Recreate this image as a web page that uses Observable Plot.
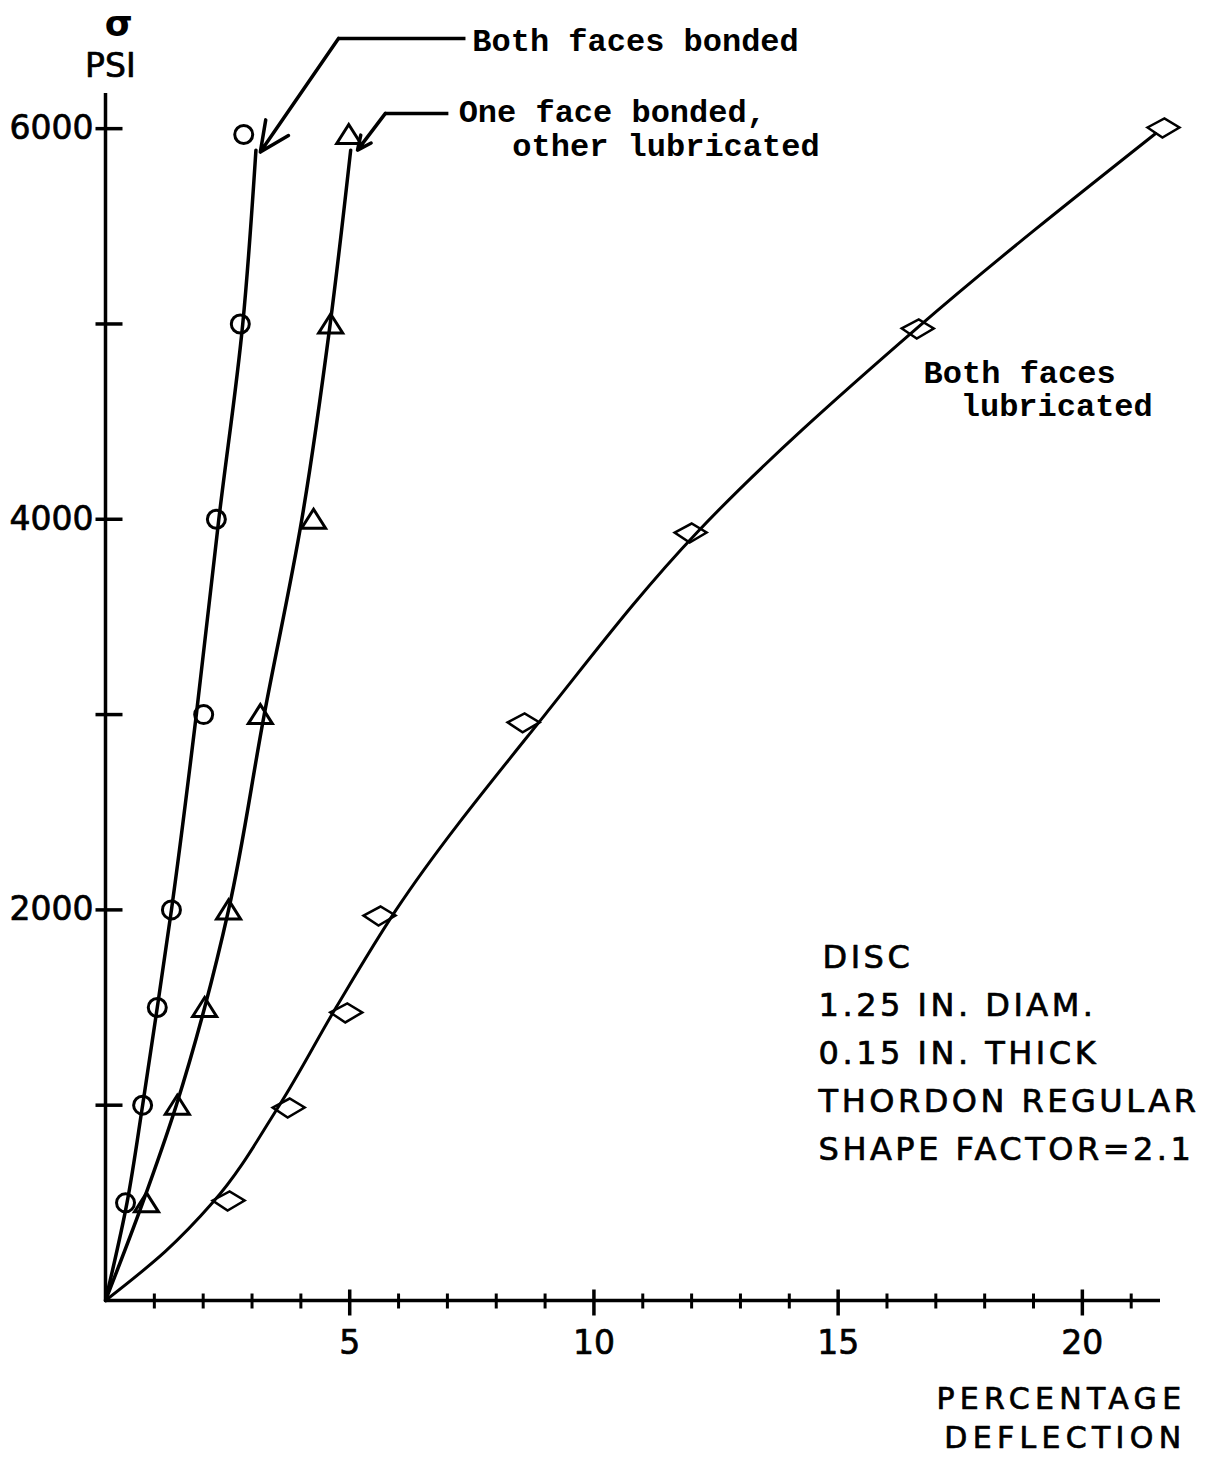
<!DOCTYPE html>
<html><head><meta charset="utf-8">
<script src="https://cdn.jsdelivr.net/npm/d3@7"></script>
<script src="https://cdn.jsdelivr.net/npm/@observablehq/plot@0.6"></script>
<style>
body{margin:0;background:#fff;}
</style></head><body><div id="chart"></div>
<script>
// ---- data ----
// Both faces bonded (circles)
const bondedDefl   = [0.41, 0.76, 1.06, 1.35, 2.01, 2.27, 2.76, 2.83];
const bondedStress = [500, 1000, 1500, 2000, 3000, 4000, 5000, 5970];
const bondedCurveDefl   = [0, 0.44, 0.76, 1.06, 1.35, 1.86, 2.32, 2.81, 3.08];
const bondedCurveStress = [0, 500, 1000, 1500, 2000, 3000, 4000, 5000, 5890];
// One face bonded, other lubricated (triangles)
const oneDefl   = [0.84, 1.47, 2.03, 2.52, 3.17, 4.26, 4.61, 4.98];
const oneStress = [500, 1000, 1500, 2000, 3000, 4000, 5000, 5970];
const oneCurveDefl   = [0, 0.76, 1.45, 2.03, 2.52, 3.25, 4.02, 4.60, 5.02];
const oneCurveStress = [0, 500, 1000, 1500, 2000, 3000, 4000, 5000, 5890];
// Both faces lubricated (diamonds)
const lubDefl   = [2.52, 3.75, 4.93, 5.61, 8.56, 11.98, 16.63, 21.66];
const lubStress = [512, 988, 1475, 1971, 2960, 3932, 4977, 6006];
const lubCurveDefl   = [0, 1.22, 2.19, 3.56, 4.72, 5.95, 9.0, 12.12, 16.62, 21.5];
const lubCurveStress = [0, 250, 500, 1000, 1500, 2000, 3000, 3935, 4980, 5975];

// axes
const xTicks = [1,2,3,4,5,6,7,8,9,10,11,12,13,14,15,16,17,18,19,20,21];
const xMajor = [5,10,15,20];
const xLabels = ["5","10","15","20"];
const yTicks = [1000,2000,3000,4000,5000,6000];
const yLabelVals = [2000,4000,6000];
const yLabels = ["2000","4000","6000"];

// annotations (data coordinates)
const noteLines = ["DISC","1.25 IN. DIAM.","0.15 IN. THICK","THORDON REGULAR","SHAPE FACTOR=2.1"];
const noteX = [14.68, 14.60, 14.60, 14.60, 14.60];
const noteY = [1705, 1459, 1213, 963, 717];
const xTitle = ["PERCENTAGE", "DEFLECTION"];
const xTitleY = [-553, -753];
const labelText = ["Both faces bonded", "One face bonded,", "other lubricated", "Both faces", "lubricated"];
const labelX = [7.51, 7.23, 8.33, 16.75, 17.51];
const labelY = [6400, 6032, 5858, 4700, 4531];
const leaderH = [{x1: 4.77, x2: 7.37, y: 6462}, {x1: 5.73, x2: 7.02, y: 6078}];
const leaderArrow = [{x1: 4.77, y1: 6462, x2: 3.17, y2: 5880}, {x1: 5.73, y1: 6078, x2: 5.16, y2: 5890}];

// ---- build ----
const pts = (xs, ys) => xs.map((x, i) => ({x, y: ys[i]}));
const bonded = pts(bondedDefl, bondedStress), bondedCurve = pts(bondedCurveDefl, bondedCurveStress);
const one = pts(oneDefl, oneStress), oneCurve = pts(oneCurveDefl, oneCurveStress);
const lub = pts(lubDefl, lubStress), lubCurve = pts(lubCurveDefl, lubCurveStress);

const seg = (x0, y0, x1, y1) => ({draw(c){ c.moveTo(x0, y0); c.lineTo(x1, y1); }});
const triSym = {draw(c){ c.moveTo(0,-10); c.lineTo(12,9); c.lineTo(-12,9); c.closePath(); }};
const diaSym = {draw(c){ c.moveTo(-16,0); c.lineTo(1,-9); c.lineTo(16,0); c.lineTo(-1,10); c.closePath(); }};

const mono = "Liberation Mono";
const sans = "DejaVu Sans";
const heavy = {stroke: "black", strokeWidth: 0.7, fill: "black"};

const chart = Plot.plot({
  width: 1206, height: 1461,
  marginLeft: 105, marginRight: 46, marginTop: 93, marginBottom: 161,
  x: {domain: [0, 21.6], axis: null},
  y: {domain: [0, 6180], axis: null},
  style: {background: "white", fontFamily: sans, color: "black"},
  marks: [
    // axes
    Plot.ruleY([0], {x1: 0, x2: 21.6, stroke: "black", strokeWidth: 3.5}),
    Plot.ruleX([0], {y1: 0, y2: 6180, stroke: "black", strokeWidth: 3.5}),
    Plot.dot(xTicks.filter(t => !xMajor.includes(t)), {x: d => d, y: 0, symbol: seg(0,-7,0,8), stroke: "black", strokeWidth: 3, fill: "none"}),
    Plot.dot(xMajor, {x: d => d, y: 0, symbol: seg(0,-11,0,15), stroke: "black", strokeWidth: 3.5, fill: "none"}),
    Plot.dot(yTicks, {x: 0, y: d => d, symbol: seg(-10,0,17,0), stroke: "black", strokeWidth: 3.5, fill: "none"}),
    Plot.text(xMajor, {x: d => d, y: 0, text: (d, i) => xLabels[i], dy: 30, lineAnchor: "top", fontSize: 33, fontFamily: sans, ...heavy}),
    Plot.text(yLabelVals, {x: 0, y: d => d, text: (d, i) => yLabels[i], dx: -12, textAnchor: "end", lineAnchor: "middle", fontSize: 33, fontFamily: sans, ...heavy}),
    Plot.text(["σ"], {x: 0.27, y: 6472, fontSize: 36, lineAnchor: "bottom", fontFamily: sans, fontWeight: "bold"}),
    Plot.text(["PSI"], {x: 0.1, y: 6262, fontSize: 33, lineAnchor: "bottom", fontFamily: sans, ...heavy}),
    Plot.text(xTitle, {x: 22.13, y: (d, i) => xTitleY[i], text: d => d, textAnchor: "end", lineAnchor: "bottom", fontSize: 30, fontFamily: sans, ...heavy}),
    // curves
    Plot.line(lubCurve, {x: "x", y: "y", curve: "monotone-y", stroke: "black", strokeWidth: 3}),
    Plot.line(oneCurve, {x: "x", y: "y", curve: "monotone-y", stroke: "black", strokeWidth: 3.5}),
    Plot.line(bondedCurve, {x: "x", y: "y", curve: "monotone-y", stroke: "black", strokeWidth: 3.5}),
    // points
    Plot.dot(bonded, {x: "x", y: "y", symbol: "circle", r: 9, stroke: "black", strokeWidth: 3, fill: "none"}),
    Plot.dot(one, {x: "x", y: "y", symbol: triSym, stroke: "black", strokeWidth: 3, fill: "none"}),
    Plot.dot(lub, {x: "x", y: "y", symbol: diaSym, stroke: "black", strokeWidth: 2.5, fill: "none"}),
    // leaders
    Plot.link(leaderH, {x1: "x1", x2: "x2", y1: "y", y2: "y", stroke: "black", strokeWidth: 3.5}),
    Plot.arrow(leaderArrow, {x1: "x1", y1: "y1", x2: "x2", y2: "y2", stroke: "black", strokeWidth: 3.5, headLength: 14, headAngle: 50}),
    // labels
    Plot.text(labelText, {x: (d, i) => labelX[i], y: (d, i) => labelY[i], text: d => d, textAnchor: "start", lineAnchor: "bottom", fontSize: 32, fontFamily: mono, fontWeight: "bold"}),
    Plot.text(noteLines, {x: (d, i) => noteX[i], y: (d, i) => noteY[i], text: d => d, textAnchor: "start", lineAnchor: "bottom", fontSize: 32, fontFamily: sans, ...heavy})
  ]
});
// letter spacing of the hand-lettered blocks
d3.select(chart).selectAll("text").each(function() {
  const t = this.textContent;
  if (noteLines.includes(t)) this.setAttribute("letter-spacing", "3.5");
  if (xTitle.includes(t)) this.setAttribute("letter-spacing", "5.3");
});
document.getElementById("chart").appendChild(chart);
</script></body></html>
